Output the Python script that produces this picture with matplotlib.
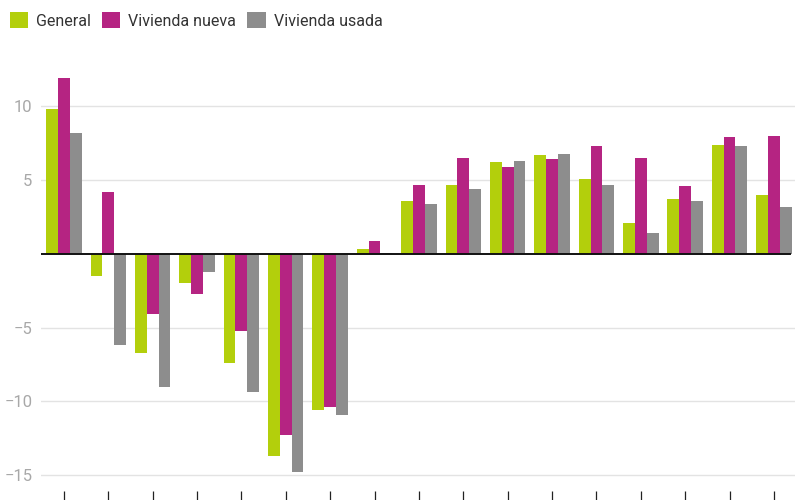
import matplotlib
matplotlib.use("Agg")
import matplotlib.pyplot as plt
from matplotlib.patches import Patch
import numpy as np

plt.rcParams['font.family'] = ['Roboto', 'DejaVu Sans']

series_names = ["General", "Vivienda nueva", "Vivienda usada"]
general = [9.8, -1.5, -6.7, -2.0, -7.4, -13.7, -10.6, 0.3, 3.6, 4.7, 6.2, 6.7, 5.1, 2.1, 3.7, 7.4, 4.0]
nueva = [11.9, 4.2, -4.1, -2.7, -5.2, -12.3, -10.4, 0.9, 4.7, 6.5, 5.9, 6.4, 7.3, 6.5, 4.6, 7.9, 8.0]
usada = [8.2, -6.2, -9.0, -1.2, -9.4, -14.8, -10.9, 0.05, 3.4, 4.4, 6.3, 6.8, 4.7, 1.4, 3.6, 7.3, 3.2]
yticks = [-15, -10, -5, 5, 10]
colors = ["#b3cf0c", "#b52482", "#8d8d8d"]

fig = plt.figure(figsize=(8, 5), dpi=100)
ax = fig.add_axes([0.051, 0.018, 0.9425, 0.902])

x = np.arange(len(general))
w = 0.266
for i, (vals, c) in enumerate(zip([general, nueva, usada], colors)):
    ax.bar(x + (i - 1) * w, vals, width=w, color=c, zorder=3, linewidth=0)

ax.set_xlim(-0.52, len(general) - 0.53)
ax.set_ylim(-16.08, 14.5)
ax.set_yticks(yticks)
ax.set_yticklabels([("\u2212" + str(-t)) if t < 0 else str(t) for t in yticks])
ax.yaxis.grid(True, color="#e3e3e3", linewidth=1, zorder=0)
ax.axhline(0, color="#111111", linewidth=1.4, zorder=4, xmax=0.993)
ax.set_xticks(x)
ax.set_xticklabels([])
ax.tick_params(axis="x", length=7, width=0.9, color="#222222", direction="out")
ax.tick_params(axis="y", length=0, labelsize=12, labelcolor="#a8a8a8", pad=6)
for s in ax.spines.values():
    s.set_visible(False)

handles = [Patch(facecolor=c, edgecolor="none") for c in colors]
fig.legend(handles, series_names, loc="upper left", bbox_to_anchor=(-0.002, 0.998),
           ncol=3, frameon=False, fontsize=11.5, handlelength=1.15, handleheight=1.15,
           handletextpad=0.5, columnspacing=0.7, labelcolor="#333333",
           borderaxespad=0.3)

fig.savefig("out.png", dpi=100)
